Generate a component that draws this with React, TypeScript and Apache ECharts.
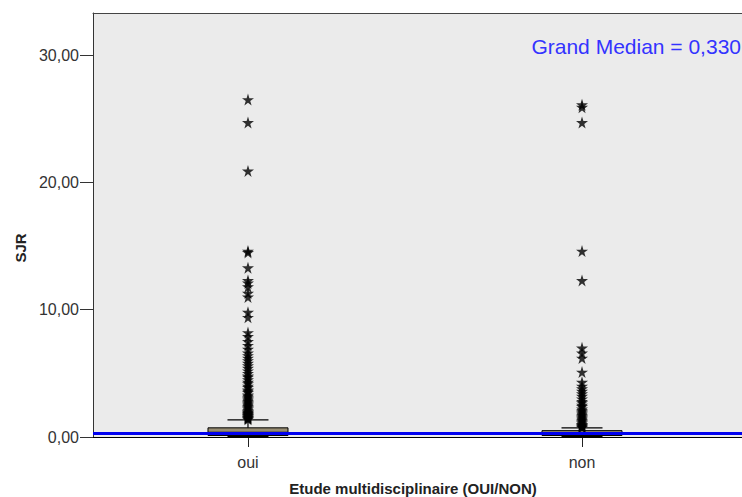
import React, { useEffect, useRef } from "react";
import * as echarts from "echarts";

const categories = ["oui", "non"];
// [lower whisker, Q1, median, Q3, upper whisker]
const boxOui = [0.02, 0.12, 0.33, 0.72, 1.35];
const boxNon = [0.02, 0.12, 0.26, 0.5, 0.72];
const outliersOui = [
  26.5, 24.7, 20.9, 14.6, 14.5, 13.3, 12.3, 12.1, 11.8, 11.3, 11.0, 9.8, 9.4, 8.2, 7.9,
  7.5, 7.2, 6.9, 6.6, 6.4, 6.2, 6.0, 5.8, 5.6, 5.4, 5.2, 5.0, 4.8, 4.7, 4.5, 4.3, 4.2,
  4.0, 3.9, 3.7, 3.6, 3.5, 3.3, 3.2, 3.1, 3.0, 2.9, 2.8, 2.7, 2.6, 2.5, 2.4, 2.3, 2.2,
  2.1, 2.0, 1.95, 1.9, 1.85, 1.8, 1.75, 1.7, 1.65, 1.6, 1.55, 1.5, 1.45, 1.4,
];
const outliersNon = [
  26.1, 25.9, 24.7, 14.6, 12.3, 7.0, 6.6, 6.2, 5.1, 4.3, 4.0, 3.8, 3.6, 3.4, 3.2, 3.0,
  2.8, 2.7, 2.5, 2.4, 2.2, 2.1, 2.0, 1.9, 1.8, 1.7, 1.6, 1.5, 1.4, 1.3, 1.2, 1.1, 1.0,
  0.95, 0.9, 0.85, 0.8, 0.75,
];
const grandMedian = 0.33;
const yTicks = [0, 10, 20, 30];

const STAR =
  "path://M50,0 L61,35 L98,35 L68,57 L79,91 L50,70 L21,91 L32,57 L2,35 L39,35 Z";
const FONT = "'Liberation Sans', Arial, sans-serif";

export default function App() {
  const ref = useRef<HTMLDivElement>(null);
  useEffect(() => {
    if (!ref.current) return;
    const chart = echarts.init(ref.current, undefined, { renderer: "svg" });
    const boxData = [
      [1, ...boxOui],
      [2, ...boxNon],
    ];
    const outData = [
      ...outliersOui.map((v) => [1, v]),
      ...outliersNon.map((v) => [2, v]),
    ];
    const fmt = (v: number) => v.toFixed(2).replace(".", ",");
    const xMin = 0.536;
    const xMax = 2.479;
    chart.setOption({
      animation: false,
      grid: {
        left: 93,
        top: 13,
        right: 0,
        bottom: 60,
        show: true,
        backgroundColor: "#ebebeb",
        borderWidth: 0,
      },
      xAxis: [
        {
          type: "value",
          min: xMin,
          max: xMax,
          splitLine: { show: false },
          axisLine: { show: true, onZero: false, lineStyle: { color: "#000", width: 1 } },
          axisTick: {
            show: true,
            length: 10,
            customValues: [1, 2],
            lineStyle: { color: "#222" },
          },
          axisLabel: {
            customValues: [1, 2],
            formatter: (v: number) => categories[Math.round(v) - 1] ?? "",
            fontSize: 16,
            color: "#333",
            fontFamily: FONT,
            margin: 17,
          },
        },
        {
          type: "value",
          position: "top",
          min: xMin,
          max: xMax,
          splitLine: { show: false },
          axisLine: { show: true, onZero: false, lineStyle: { color: "#444", width: 1 } },
          axisTick: { show: false },
          axisLabel: { show: false },
        },
      ],
      yAxis: {
        type: "value",
        min: 0,
        max: 33.3,
        splitLine: { show: false },
        axisLine: { show: true, lineStyle: { color: "#333" } },
        axisTick: {
          show: true,
          length: 13,
          customValues: yTicks,
          lineStyle: { color: "#333" },
        },
        axisLabel: {
          customValues: yTicks,
          formatter: (v: number) => fmt(v),
          fontSize: 16,
          color: "#333",
          fontFamily: FONT,
          margin: 14,
        },
      },
      graphic: [
        {
          type: "text",
          x: 741,
          y: 46,
          style: {
            text: "Grand Median = 0,330",
            fill: "#3333ff",
            fontSize: 21,
            fontFamily: FONT,
            textAlign: "right",
            textVerticalAlign: "middle",
          },
          z: 10,
        },
        {
          type: "text",
          x: 413,
          y: 488,
          style: {
            text: "Etude multidisciplinaire (OUI/NON)",
            fill: "#222",
            fontSize: 15,
            fontWeight: "bold",
            fontFamily: FONT,
            textAlign: "center",
            textVerticalAlign: "middle",
          },
        },
        {
          type: "text",
          x: 20,
          y: 248,
          rotation: Math.PI / 2,
          style: {
            text: "SJR",
            fill: "#222",
            fontSize: 15,
            fontWeight: "bold",
            fontFamily: FONT,
            textAlign: "center",
            textVerticalAlign: "middle",
          },
        },
      ],
      series: [
        {
          type: "custom",
          z: 2,
          clip: false,
          data: boxData,
          encode: { x: 0, y: [1, 2, 3, 4, 5] },
          renderItem: (params: any, api: any) => {
            const x = api.value(0);
            const lo = api.coord([x, api.value(1)]);
            const q1 = api.coord([x, api.value(2)]);
            const med = api.coord([x, api.value(3)]);
            const q3 = api.coord([x, api.value(4)]);
            const hi = api.coord([x, api.value(5)]);
            const cx = lo[0];
            const bw = 80;
            const cw = 41;
            const ls = { stroke: "#000", lineWidth: 1.2 };
            return {
              type: "group",
              children: [
                { type: "line", shape: { x1: cx, y1: lo[1], x2: cx, y2: hi[1] }, style: ls },
                { type: "line", shape: { x1: cx - cw / 2, y1: hi[1], x2: cx + cw / 2, y2: hi[1] }, style: ls },
                { type: "line", shape: { x1: cx - cw / 2, y1: lo[1], x2: cx + cw / 2, y2: lo[1] }, style: { stroke: "#000", lineWidth: 2.5 } },
                {
                  type: "rect",
                  shape: { x: cx - bw / 2, y: q3[1], width: bw, height: q1[1] - q3[1] },
                  style: { fill: "#978c72", stroke: "#000", lineWidth: 1 },
                },
                { type: "line", shape: { x1: cx - bw / 2, y1: med[1], x2: cx + bw / 2, y2: med[1] }, style: { stroke: "#000", lineWidth: 2 } },
              ],
            };
          },
        },
        {
          type: "scatter",
          z: 3,
          data: outData,
          symbol: STAR,
          symbolSize: 12,
          itemStyle: { color: "#000" },
        },
        {
          type: "line",
          z: 5,
          data: [],
          markLine: {
            silent: true,
            symbol: "none",
            label: { show: false },
            lineStyle: { color: "#0000f0", width: 3, type: "solid" },
            data: [{ yAxis: grandMedian }],
          },
        },
      ],
    });
    return () => chart.dispose();
  }, []);
  return (
    <div
      ref={ref}
      style={{ position: "fixed", left: 0, top: 0, width: 742, height: 497, background: "#fff" }}
    />
  );
}
